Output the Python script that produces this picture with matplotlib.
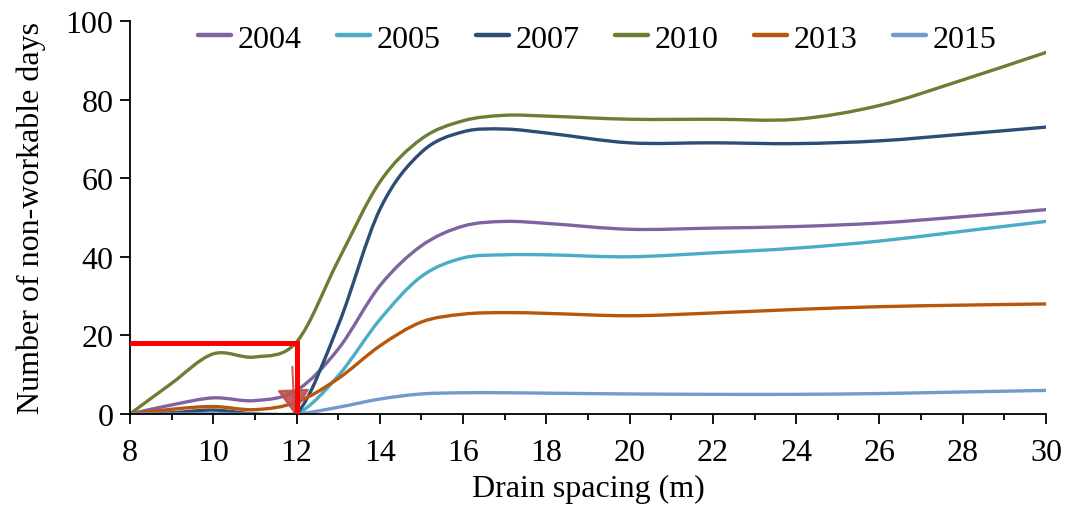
import numpy as np
import matplotlib
matplotlib.use("Agg")
import matplotlib.pyplot as plt
from matplotlib.path import Path
from matplotlib.patches import PathPatch
from matplotlib.ticker import MultipleLocator

# DATA -------------
spacing = [8, 9, 10, 11, 12, 13, 14, 15, 16, 17, 18, 20, 22, 24, 26, 28, 30]

y2004 = [0, 2.3, 4.1, 3.4, 6.0, 16.5, 32.6, 42.8, 47.8, 49.0, 48.5, 47.0, 47.3, 47.7, 48.6, 50.2, 52.0]
y2005 = [0, 0, 0, 0, 0, 9.7, 24.0, 35.0, 39.7, 40.5, 40.5, 40.0, 41.0, 42.2, 44.0, 46.5, 49.0]
y2007 = [0, 0.3, 1.0, 0, 0, 22.5, 52.0, 66.6, 71.8, 72.5, 71.5, 69.0, 69.0, 68.8, 69.5, 71.2, 73.0]
y2010 = [0, 7.8, 15.3, 14.5, 18.3, 39.0, 59.0, 70.0, 74.6, 76.0, 75.8, 75.0, 75.0, 75.0, 78.5, 85.0, 92.0]
y2013 = [0, 1.2, 1.9, 1.1, 3.0, 9.0, 17.3, 23.4, 25.4, 25.8, 25.6, 25.0, 25.7, 26.6, 27.3, 27.7, 28.0]
y2015 = [0, 0, 0, 0, 0, 1.7, 3.8, 5.1, 5.4, 5.4, 5.3, 5.1, 5.0, 5.0, 5.2, 5.6, 6.0]

years = ["2004", "2005", "2007", "2010", "2013", "2015"]
series = [y2004, y2005, y2007, y2010, y2013, y2015]
colors = ["#8064A2", "#4BACC6", "#2C4D75", "#6A7F34", "#B8570C", "#729ACB"]

# threshold marker (critical spacing / days)
crit_x = 12
crit_y = 18

plt.rcParams["font.family"] = ["Liberation Serif", "DejaVu Serif"]
plt.rcParams["font.size"] = 23


def smooth_path(x, y):
    # cubic Hermite through the points, tangents from neighbours (like Excel smoothing)
    x = np.asarray(x, float)
    y = np.asarray(y, float)
    n = len(x)
    m = np.zeros(n)
    for i in range(n):
        lo = max(i - 1, 0)
        hi = min(i + 1, n - 1)
        m[i] = (y[hi] - y[lo]) / (x[hi] - x[lo])
    verts = [(x[0], y[0])]
    codes = [Path.MOVETO]
    for i in range(n - 1):
        h = x[i + 1] - x[i]
        verts += [(x[i] + h / 3, y[i] + m[i] * h / 3),
                  (x[i + 1] - h / 3, y[i + 1] - m[i + 1] * h / 3),
                  (x[i + 1], y[i + 1])]
        codes += [Path.CURVE4] * 3
    return Path(verts, codes)


fig = plt.figure(figsize=(10.67, 5.10), dpi=100)
ax = fig.add_axes([0.1218, 0.1863, 0.8585, 0.7706])

for name, ys, c in zip(years, series, colors):
    patch = PathPatch(smooth_path(spacing, ys), facecolor="none", edgecolor=c,
                      linewidth=2.4, capstyle="round", joinstyle="round")
    ax.add_patch(patch)
    ax.plot([], [], color=c, linewidth=3.2, label=name, solid_capstyle="round")

# arrow (under) + red threshold lines (over)
ax.annotate("", xy=(crit_x - 0.05, 0), xytext=(crit_x - 0.1, crit_y - 6),
            arrowprops=dict(arrowstyle="-|>,head_length=0.6,head_width=0.4",
                            color="#C0504D", lw=1.5, mutation_scale=26,
                            shrinkA=0, shrinkB=0, alpha=0.9), zorder=2.9)
ax.plot([8, crit_x, crit_x], [crit_y, crit_y, 0], color="#FF0000", linewidth=3.6,
        solid_joinstyle="miter", zorder=3)

ax.set_xlim(8, 30)
ax.set_ylim(0, 100)
ax.xaxis.set_major_locator(MultipleLocator(2))
ax.xaxis.set_minor_locator(MultipleLocator(1))
ax.yaxis.set_major_locator(MultipleLocator(20))
ax.tick_params(axis="both", which="major", direction="out", length=7, width=1.3, labelsize=23)
ax.tick_params(axis="x", which="minor", direction="out", length=4, width=1.3)
ax.tick_params(axis="x", pad=10)
ax.tick_params(axis="y", pad=5)
for s in ["top", "right"]:
    ax.spines[s].set_visible(False)
for s in ["left", "bottom"]:
    ax.spines[s].set_linewidth(1.3)

ax.set_xlabel("Drain spacing (m)", fontsize=23, labelpad=5)
ax.set_ylabel("Number of non-workable days", fontsize=23, labelpad=14)

ax.legend(loc="upper center", bbox_to_anchor=(0.51, 1.065), ncol=6, frameon=False,
          handlelength=1.05, columnspacing=1.1, handletextpad=0.2, fontsize=23)

fig.savefig("out.png", dpi=100)
